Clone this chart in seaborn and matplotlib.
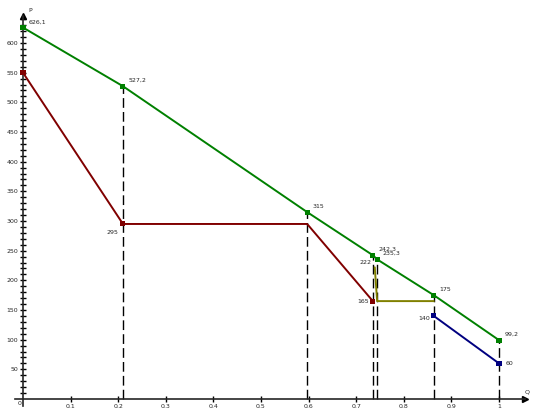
import numpy as np
import pandas as pd
import matplotlib
matplotlib.use("Agg")
import matplotlib.pyplot as plt
import seaborn as sns

# data
green_q = [0.0, 0.21, 0.597, 0.735, 0.744, 0.863, 1.0]
green_p = [626.1, 527.2, 315, 242.3, 235.3, 175, 99.2]
red_q = [0.0, 0.21, 0.597, 0.735]
red_p = [550, 295, 295, 165]
olive_q = [0.739, 0.744, 0.863]
olive_p = [222, 165, 165]
blue_q = [0.863, 1.0]
blue_p = [140, 60]

# vertical guides go from the green curve down to the axis
guide_q = green_q[1:]
guide_p = green_p[1:]

y_ticks = list(range(50, 601, 50))
x_ticks = [0.1, 0.2, 0.3, 0.4, 0.5, 0.6, 0.7, 0.8, 0.9, 1.0]
x_labels = ["0.1", "0.2", "0.3", "0.4", "0.5", "0.6", "0.7", "0.8", "0.9", "1"]

colors = {"green": "#008000", "red": "#800000", "olive": "#808000", "blue": "#000080"}


def fmt(v):
    s = ("%.1f" % v).rstrip("0").rstrip(".")
    return s.replace(".", ",")


df = pd.concat([
    pd.DataFrame({"Q": green_q, "P": green_p, "series": "green"}),
    pd.DataFrame({"Q": red_q, "P": red_p, "series": "red"}),
    pd.DataFrame({"Q": olive_q, "P": olive_p, "series": "olive"}),
    pd.DataFrame({"Q": blue_q, "P": blue_p, "series": "blue"}),
], ignore_index=True)

sns.set_style("white")
plt.rcParams["font.family"] = ["DejaVu Sans"]

fig = plt.figure(figsize=(5.46, 4.19), dpi=100)
ax = fig.add_axes([0, 0, 1, 1])

# pixel mapping: Q=0 at x=23, Q=1 at x=499; P=0 at 20px from bottom, 0.593 px per unit
ax.set_xlim(-23 / 476, (546 - 23) / 476)
ax.set_ylim(-20 / 0.5933, (419 - 20) / 0.5933)

ax.vlines(guide_q, 0, guide_p, colors="black", linewidth=1.0,
          linestyles=(0, (7, 3)), zorder=1)

sns.lineplot(data=df, x="Q", y="P", hue="series", palette=colors, sort=False,
             estimator=None, units="series", linewidth=1.4, legend=False, ax=ax, zorder=3)

marks = pd.DataFrame({
    "Q": green_q + [red_q[0], red_q[1], red_q[3]] + blue_q,
    "P": green_p + [red_p[0], red_p[1], red_p[3]] + blue_p,
    "series": ["green"] * len(green_q) + ["red"] * 3 + ["blue"] * 2,
})
sns.scatterplot(data=marks, x="Q", y="P", hue="series", palette=colors, marker="s",
                s=13, linewidth=0, legend=False, ax=ax, zorder=4)

fs = 4.5
for q, p in zip(green_q, green_p):
    ax.annotate(fmt(p), (q, p), xytext=(4, 3), textcoords="offset points", fontsize=fs)
ax.annotate(fmt(red_p[1]), (red_q[1], red_p[1]), xytext=(-3, -4), textcoords="offset points",
            fontsize=fs, ha="right", va="top")
ax.annotate(fmt(red_p[3]), (red_q[3], red_p[3]), xytext=(-3, 0), textcoords="offset points",
            fontsize=fs, ha="right", va="center")
ax.annotate(fmt(olive_p[0]), (olive_q[0], olive_p[0]), xytext=(-2, 2), textcoords="offset points",
            fontsize=fs, ha="right", va="bottom")
ax.annotate(fmt(blue_p[0]), (blue_q[0], blue_p[0]), xytext=(-3, -2), textcoords="offset points",
            fontsize=fs, ha="right", va="center")
ax.annotate(fmt(blue_p[1]), (blue_q[1], blue_p[1]), xytext=(5, 0), textcoords="offset points",
            fontsize=fs, ha="left", va="center")

# axes through the origin with arrows
for s in ["top", "right"]:
    ax.spines[s].set_visible(False)
ax.spines["left"].set_position(("data", 0))
ax.spines["bottom"].set_position(("data", 0))
ax.spines["left"].set_bounds(-12, 645)
ax.spines["bottom"].set_bounds(-0.017, 1.055)
ax.spines["left"].set_linewidth(1.2)
ax.spines["bottom"].set_linewidth(1.2)
ax.plot([0], [645], marker="^", color="black", markersize=4, clip_on=False)
ax.plot([1.055], [0], marker=">", color="black", markersize=4, clip_on=False)
ax.text(0.012, 650, "P", fontsize=4.5, ha="left", va="bottom")
ax.text(1.06, 8, "Q", fontsize=4.5, ha="center", va="bottom")
ax.text(-0.004, -4, "0", fontsize=4.5, ha="right", va="top")

ax.set_yticks(y_ticks)
ax.set_yticklabels([str(v) for v in y_ticks])
ax.set_yticks(np.arange(10, 641, 10), minor=True)
ax.set_xticks(x_ticks)
ax.set_xticklabels(x_labels)
ax.tick_params(axis="both", which="major", direction="inout", length=5, width=1,
               labelsize=4.5, pad=1, left=True, bottom=True, color="black")
ax.tick_params(axis="y", which="minor", direction="inout", length=4, width=1,
               left=True, color="black")
ax.set_xlabel("")
ax.set_ylabel("")

fig.savefig("out.png", dpi=100)
